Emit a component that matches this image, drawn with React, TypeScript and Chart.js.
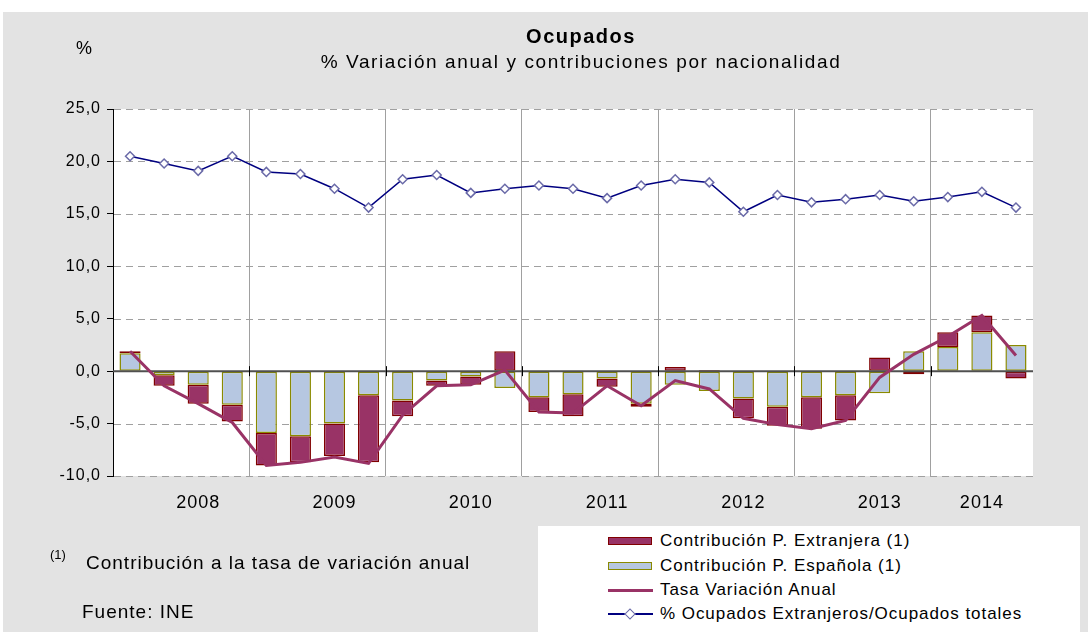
import React, { useEffect, useRef } from "react";
import { Chart, registerables } from "chart.js";
Chart.register(...registerables);

const quarters = [
  "2008-I", "2008-II", "2008-III", "2008-IV",
  "2009-I", "2009-II", "2009-III", "2009-IV",
  "2010-I", "2010-II", "2010-III", "2010-IV",
  "2011-I", "2011-II", "2011-III", "2011-IV",
  "2012-I", "2012-II", "2012-III", "2012-IV",
  "2013-I", "2013-II", "2013-III", "2013-IV",
  "2014-I", "2014-II", "2014-III",
];

const yearTickLabels = [
  "", "", "2008", "",
  "", "", "2009", "",
  "", "", "2010", "",
  "", "", "2011", "",
  "", "", "2012", "",
  "", "", "2013", "",
  "", "2014", "",
];

const contribEspanola = [
  1.7, -0.4, -1.3, -3.2,
  -5.9, -6.2, -5.0, -2.3,
  -2.8, -0.9, -0.5, -1.6,
  -2.5, -2.2, -0.7, -3.1,
  -1.3, -1.9, -2.6, -3.4,
  -2.5, -2.3, -2.1, 1.9,
  2.3, 3.7, 2.5,
];

const contribExtranjera = [
  0.2, -1.0, -1.8, -1.6,
  -3.1, -2.5, -3.1, -6.4,
  -1.5, -0.5, -0.8, 1.9,
  -1.4, -2.1, -0.8, -0.3,
  0.4, 0.1, -1.9, -1.8,
  -3.0, -2.4, 1.3, -0.3,
  1.4, 1.6, -0.7,
];

const tasaVariacion = [
  1.9, -1.4, -3.1, -4.9,
  -9.0, -8.7, -8.2, -8.8,
  -4.2, -1.4, -1.3, 0.1,
  -3.9, -4.0, -1.4, -3.3,
  -0.9, -1.7, -4.5, -5.1,
  -5.5, -4.7, -0.6, 1.6,
  3.3, 5.3, 1.5,
];

const pctExtranjeros = [
  20.5, 19.8, 19.1, 20.5,
  19.0, 18.8, 17.4, 15.6,
  18.3, 18.7, 17.0, 17.4,
  17.7, 17.4, 16.5, 17.7,
  18.3, 18.0, 15.2, 16.8,
  16.1, 16.4, 16.8, 16.2,
  16.6, 17.1, 15.6,
];

const yTicks = [-10, -5, 0, 5, 10, 15, 20, 25];

const FONT = "'Liberation Sans', Arial, sans-serif";
const RED = "#993366";
const RED_BORDER = "#800000";
const BLUE = "#b6c7e1";
const OLIVE = "#8a8a00";
const NAVY = "#000080";

const plotBgPlugin = {
  id: "plotBg",
  beforeDraw(chart: any) {
    const { ctx, chartArea } = chart;
    ctx.save();
    ctx.fillStyle = "#ffffff";
    ctx.fillRect(chartArea.left, chartArea.top, chartArea.right - chartArea.left, chartArea.bottom - chartArea.top);
    ctx.restore();
    try { (ctx as any).letterSpacing = "1px"; } catch (e) {}
  },
  beforeDatasetsDraw(chart: any) {
    const { ctx, chartArea, scales } = chart;
    ctx.save();
    ctx.strokeStyle = "#a0a0a0";
    ctx.lineWidth = 1;
    ctx.setLineDash([7, 5]);
    for (const v of yTicks) {
      if (v === 0) continue;
      const y = Math.round(scales.y.getPixelForValue(v)) + 0.5;
      ctx.beginPath();
      ctx.moveTo(chartArea.left + 1, y);
      ctx.lineTo(chartArea.right, y);
      ctx.stroke();
    }
    ctx.restore();
  },
  afterDatasetDraw(chart: any, args: any) {
    if (args.index !== 0) return;
    const { ctx, chartArea, scales } = chart;
    const y0 = scales.y.getPixelForValue(0);
    ctx.save();
    ctx.strokeStyle = "#505050";
    ctx.lineWidth = 2;
    ctx.setLineDash([]);
    ctx.beginPath();
    ctx.moveTo(chartArea.left, y0);
    ctx.lineTo(chartArea.right, y0);
    ctx.stroke();
    ctx.strokeStyle = "#000";
    ctx.lineWidth = 1;
    for (let i = 4; i < quarters.length; i += 4) {
      const x = Math.round(scales.x.getPixelForValue(i - 0.5)) + 0.5;
      ctx.beginPath();
      ctx.moveTo(x, y0 - 5);
      ctx.lineTo(x, y0 + 5);
      ctx.stroke();
    }
    ctx.restore();
  },
};

function LegendRow({ top, kind, label }: { top: number; kind: string; label: string }) {
  let swatch: React.ReactNode = null;
  if (kind === "red") {
    swatch = <div style={{ position: "absolute", left: 608, top: top - 4, width: 42, height: 6, background: RED, border: `1.5px solid ${RED_BORDER}` }} />;
  } else if (kind === "blue") {
    swatch = <div style={{ position: "absolute", left: 608, top: top - 4, width: 42, height: 6, background: BLUE, border: `1.5px solid ${OLIVE}` }} />;
  } else if (kind === "line") {
    swatch = <div style={{ position: "absolute", left: 608, top: top - 1.5, width: 45, height: 3, background: RED }} />;
  } else {
    swatch = (
      <>
        <div style={{ position: "absolute", left: 608, top: top - 0.75, width: 45, height: 1.5, background: NAVY }} />
        <div style={{ position: "absolute", left: 626, top: top - 4, width: 6, height: 6, background: "#fff", border: "1.5px solid #6a6aa8", transform: "rotate(45deg)" }} />
      </>
    );
  }
  return (
    <>
      {swatch}
      <div style={{ position: "absolute", left: 660, top: top - 11, height: 22, lineHeight: "22px", fontSize: 17, letterSpacing: "0.95px", color: "#000", whiteSpace: "nowrap" }}>{label}</div>
    </>
  );
}

export default function App() {
  const canvasRef = useRef<HTMLCanvasElement | null>(null);

  useEffect(() => {
    if (!canvasRef.current) return;
    const chart = new Chart(canvasRef.current, {
      type: "bar",
      data: {
        labels: quarters,
        datasets: [
          {
            type: "bar",
            label: "Contribución P. Española (1)",
            data: contribEspanola,
            backgroundColor: BLUE,
            borderColor: OLIVE,
            borderWidth: 1.5,
            borderSkipped: false,
            stack: "contrib",
            order: 3,
            categoryPercentage: 0.62,
            barPercentage: 1,
          },
          {
            type: "bar",
            label: "Contribución P. Extranjera (1)",
            data: contribExtranjera,
            backgroundColor: RED,
            borderColor: RED_BORDER,
            borderWidth: 1.5,
            borderSkipped: false,
            stack: "contrib",
            order: 4,
            categoryPercentage: 0.62,
            barPercentage: 1,
          },
          {
            type: "line",
            label: "Tasa Variación Anual",
            data: tasaVariacion,
            borderColor: RED,
            borderWidth: 3,
            pointRadius: 0,
            tension: 0,
            stack: "tasa",
            order: 1,
          },
          {
            type: "line",
            label: "% Ocupados Extranjeros/Ocupados totales",
            data: pctExtranjeros,
            borderColor: NAVY,
            borderWidth: 1.5,
            pointStyle: "rectRot",
            pointRadius: 4.5,
            pointBorderColor: "#6a6aa8",
            pointBackgroundColor: "#ffffff",
            pointBorderWidth: 1.5,
            tension: 0,
            stack: "pct",
            order: 0,
          },
        ] as any,
      },
      options: {
        responsive: false,
        animation: false,
        devicePixelRatio: 1,
        layout: { padding: { top: 109, right: 55, left: 0, bottom: 0 } },
        plugins: {
          legend: { display: false },
          tooltip: { enabled: false },
          title: { display: false },
        },
        scales: {
          x: {
            type: "category",
            stacked: true,
            offset: true,
            grid: {
              offset: true,
              drawTicks: false,
              lineWidth: 1,
              color: (ctx: any) => (ctx.index % 4 === 0 && ctx.index > 0 && ctx.index < quarters.length ? "#a0a0a0" : "rgba(0,0,0,0)"),
            },
            border: { display: false },
            ticks: {
              autoSkip: false,
              maxRotation: 0,
              minRotation: 0,
              padding: 16,
              color: "#000",
              font: { family: FONT, size: 18 },
              callback: (_v: any, i: number) => yearTickLabels[i],
            },
            afterFit: (s: any) => { s.height = 156; },
          },
          y: {
            stacked: true,
            min: yTicks[0],
            max: yTicks[yTicks.length - 1],
            afterBuildTicks: (s: any) => { s.ticks = yTicks.map((v) => ({ value: v })); },
            ticks: {
              padding: 6,
              color: "#000",
              font: { family: FONT, size: 16 },
              callback: (v: any) => Number(v).toFixed(1).replace(".", ","),
            },
            grid: {
              drawOnChartArea: false,
              color: "#000",
              lineWidth: 1,
              tickLength: 6,
              tickColor: "#000",
              tickWidth: 1,
            },
            border: {
              display: true,
              color: "#000",
              width: 1,
            },
            afterFit: (s: any) => { s.width = 113; },
          },
        },
      } as any,
      plugins: [plotBgPlugin],
    });
    return () => chart.destroy();
  }, []);

  return (
    <div style={{ position: "fixed", left: 0, top: 0, width: 1088, height: 632, background: "#fff", fontFamily: FONT, overflow: "hidden" }}>
      <div style={{ position: "absolute", left: 3, top: 12, width: 1085, height: 620, background: "#e3e3e3" }} />
      <canvas ref={canvasRef} width={1088} height={632} style={{ position: "absolute", left: 0, top: 0, width: 1088, height: 632 }} />
      <div style={{ position: "absolute", left: 0, width: 1162, top: 25, textAlign: "center", fontSize: 20, fontWeight: "bold", letterSpacing: "1.5px", lineHeight: "22px" }}>Ocupados</div>
      <div style={{ position: "absolute", left: 0, width: 1162, top: 51, textAlign: "center", fontSize: 19, letterSpacing: "1.6px", lineHeight: "22px", whiteSpace: "nowrap" }}>% Variación anual y contribuciones por nacionalidad</div>
      <div style={{ position: "absolute", left: 76, top: 38, fontSize: 18, lineHeight: "20px" }}>%</div>
      <div style={{ position: "absolute", left: 50, top: 548, fontSize: 13, lineHeight: "14px" }}>(1)</div>
      <div style={{ position: "absolute", left: 86, top: 552, fontSize: 19, letterSpacing: "1px", lineHeight: "22px", whiteSpace: "nowrap" }}>Contribución a la tasa de variación anual</div>
      <div style={{ position: "absolute", left: 82, top: 601, fontSize: 19, letterSpacing: "1px", lineHeight: "22px" }}>Fuente: INE</div>
      <div style={{ position: "absolute", left: 538, top: 526, width: 542, height: 106, background: "#fff" }} />
      <LegendRow top={541} kind="red" label="Contribución P. Extranjera (1)" />
      <LegendRow top={566} kind="blue" label="Contribución P. Española (1)" />
      <LegendRow top={590} kind="line" label="Tasa Variación Anual" />
      <LegendRow top={614} kind="pct" label="% Ocupados Extranjeros/Ocupados totales" />
    </div>
  );
}
